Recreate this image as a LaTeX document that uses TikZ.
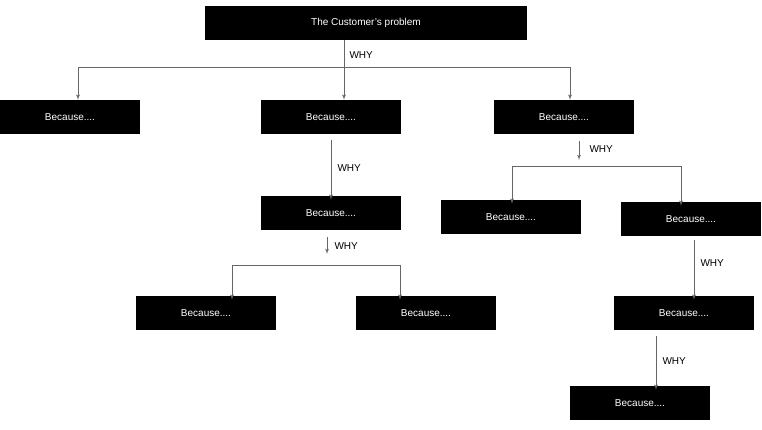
\documentclass[tikz,border=0pt]{standalone}
\usepackage{fontspec}
\setmainfont{Liberation Sans}
\usetikzlibrary{arrows,positioning}
\tikzstyle{box} = [rectangle, fill=black, text=white, minimum width=140pt, minimum height=34pt, inner sep=0pt, font=\fontsize{10}{12}\selectfont]
\tikzstyle{line} = [draw, gray!80!black, line width=0.8pt, -latex']
\tikzstyle{plain} = [draw, gray!80!black, line width=0.8pt]
\tikzstyle{why} = [font=\fontsize{10}{12}\selectfont, anchor=west]

\begin{document}
\begin{tikzpicture}[x=1pt,y=-1pt]
    \useasboundingbox (0,0) rectangle (762,429);
    \node [box, minimum width=322pt] (top) at (366,23) {The Customer’s problem};
    \node [box] (b1) at (70,117) {Because....};
    \node [box] (b2) at (331,117) {Because....};
    \node [box] (b3) at (564,117) {Because....};
    \node [box] (b4) at (331,213) {Because....};
    \node [box] (b5) at (511,217) {Because....};
    \node [box] (b6) at (691,219) {Because....};
    \node [box] (b7) at (206,313) {Because....};
    \node [box] (b8) at (426,313) {Because....};
    \node [box] (b9) at (684,313) {Because....};
    \node [box] (b10) at (640,403) {Because....};
    % first level
    \coordinate (t1) at (344,67);
    \path [plain] (top.south -| t1) -- (t1);
    \path [plain] (78,67) -- (570,67);
    \path [line] (78,67) -- (b1.north -| 78,0);
    \path [line] (t1) -- (b2.north -| t1);
    \path [line] (570,67) -- (b3.north -| 570,0);
    \node [why] (w1) at (346,55) {WHY};
    % under b2
    \path [line] (b2.south) ++(0,6) -- ([yshift=-4pt]b4.north);
    \node [why] (w2) at (334,168) {WHY};
    \coordinate (s4) at (327,254);
    \path [line] (327,237) -- (s4);
    \node [why] (w3) at (331,246) {WHY};
    \path [plain] (232,265) -- (400,265);
    \path [line] (232,265) -- ([yshift=-4pt]b7.north -| 232,0);
    \path [line] (400,265) -- ([yshift=-4pt]b8.north -| 400,0);
    % under b3
    \path [line] (579,141) -- (579,160);
    \node [why] (w4) at (586,149) {WHY};
    \path [plain] (512,166) -- (681,166);
    \path [line] (512,166) -- ([yshift=-4pt]b5.north -| 512,0);
    \path [line] (681,166) -- ([yshift=-4pt]b6.north -| 681,0);
    % under b6
    \path [line] (694,240) -- ([yshift=-4pt]b9.north -| 694,0);
    \node [why] (w5) at (697,263) {WHY};
    \path [line] (656,336) -- ([yshift=-4pt]b10.north -| 656,0);
    \node [why] (w6) at (659,361) {WHY};
\end{tikzpicture}
\end{document}
